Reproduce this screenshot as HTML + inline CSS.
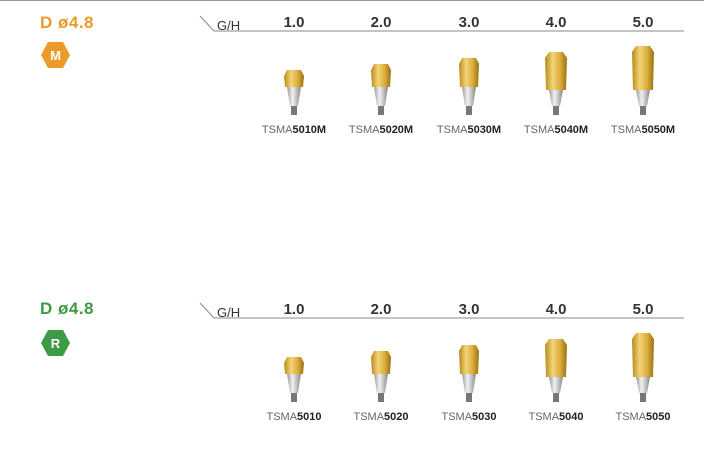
<!DOCTYPE html>
<html><head><meta charset="utf-8"><style>
body{margin:0;width:704px;height:456px;background:#fff;overflow:hidden;font-family:"Liberation Sans",sans-serif;position:relative}
.t{position:absolute;font-weight:bold;font-size:17px;letter-spacing:0.5px}
.h{position:absolute;font-size:13px;color:#333}
.n{position:absolute;font-size:15px;font-weight:bold;color:#333;width:60px;text-align:center}
.c{position:absolute;font-size:11px;color:#666;width:90px;text-align:center}
.c b{color:#222}
</style></head><body>
<div style="position:absolute;left:0;top:0;width:704px;height:1px;background:#999"></div>
<div class="t" style="left:40px;top:13px;color:#eb9a2c">D ø4.8</div>
<div class="t" style="left:40px;top:299px;color:#3d9a45">D ø4.8</div>
<svg width="704" height="456" style="position:absolute;left:0;top:0">
<defs>
<linearGradient id="g" x1="0" x2="1"><stop offset="0" stop-color="#b8891a"/><stop offset=".35" stop-color="#f3d476"/><stop offset=".7" stop-color="#d9ab3a"/><stop offset="1" stop-color="#9a7012"/></linearGradient>
<linearGradient id="s" x1="0" x2="1"><stop offset="0" stop-color="#999"/><stop offset=".4" stop-color="#f2f2f2"/><stop offset="1" stop-color="#888"/></linearGradient>
</defs>
<polygon points="41,55 48,42 63,42 70,55 63,68 48,68" fill="#eb9a2c"/>
<text x="55.5" y="60" font-size="13" font-weight="bold" fill="#fff" text-anchor="middle" font-family="Liberation Sans">M</text>
<polygon points="41,343 48,330 63,330 70,343 63,356 48,356" fill="#3d9a45"/>
<text x="55.5" y="348" font-size="13" font-weight="bold" fill="#fff" text-anchor="middle" font-family="Liberation Sans">R</text>
<polyline points="200,16 214,31 684,31" fill="none" stroke="#888" stroke-width="1"/>
<polyline points="200,303 214,318 684,318" fill="none" stroke="#888" stroke-width="1"/>
<g id="ab"></g>
</svg>
<div class="h" style="left:217px;top:18px">G/H</div>
<div class="h" style="left:217px;top:305px">G/H</div>
<div class="n" style="left:264px;top:14px">1.0</div><div class="n" style="left:351px;top:14px">2.0</div><div class="n" style="left:439px;top:14px">3.0</div><div class="n" style="left:526px;top:14px">4.0</div><div class="n" style="left:613px;top:14px">5.0</div>
<div class="n" style="left:264px;top:301px">1.0</div><div class="n" style="left:351px;top:301px">2.0</div><div class="n" style="left:439px;top:301px">3.0</div><div class="n" style="left:526px;top:301px">4.0</div><div class="n" style="left:613px;top:301px">5.0</div>
<div class="c" style="left:249px;top:124px">TSMA<b>5010M</b></div><div class="c" style="left:336px;top:124px">TSMA<b>5020M</b></div><div class="c" style="left:424px;top:124px">TSMA<b>5030M</b></div><div class="c" style="left:511px;top:124px">TSMA<b>5040M</b></div><div class="c" style="left:598px;top:124px">TSMA<b>5050M</b></div>
<div class="c" style="left:249px;top:411px">TSMA<b>5010</b></div><div class="c" style="left:336px;top:411px">TSMA<b>5020</b></div><div class="c" style="left:424px;top:411px">TSMA<b>5030</b></div><div class="c" style="left:511px;top:411px">TSMA<b>5040</b></div><div class="c" style="left:598px;top:411px">TSMA<b>5050</b></div>
<script>
var xs=[294,381,469,556,643],ns="http://www.w3.org/2000/svg",G=document.getElementById("ab");
function r(tag,a){var e=document.createElementNS(ns,tag);for(var k in a)e.setAttribute(k,a[k]);G.appendChild(e);}
[[115,0],[402,1]].forEach(function(row){var b=row[0];
xs.forEach(function(x,i){
 var top=b-45-i*6, screwTop=b-9, silTop=b-28+(i>2?3:0);
 r("rect",{x:x-3,y:screwTop,width:6,height:9,fill:"#777"});
 r("polygon",{points:(x-7)+","+silTop+" "+(x+7)+","+silTop+" "+(x+4)+","+screwTop+" "+(x-4)+","+screwTop,fill:"url(#s)"});
 var w=10+(i>2?1:0);
 r("polygon",{points:(x-7)+","+top+" "+(x+7)+","+top+" "+(x+w)+","+(top+6)+" "+(x+w-1)+","+silTop+" "+(x-w+1)+","+silTop+" "+(x-w)+","+(top+6),fill:"url(#g)"});
});});
</script>
</body></html>
